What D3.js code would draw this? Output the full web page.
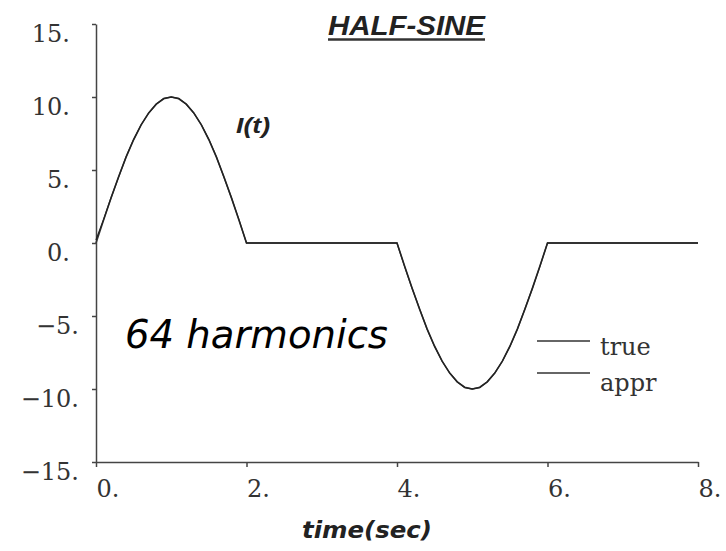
<!DOCTYPE html>
<html>
<head>
<meta charset="utf-8">
<script src="https://cdn.jsdelivr.net/npm/d3@7"></script>
<style>
  body { margin: 0; background: #fff; }
  svg { display: block; }
</style>
</head>
<body>
<div id="chart"></div>
<script>
// current I(t) in the first pulse, 0..2 s, step 0.1
const pulseT = [0, 0.1, 0.2, 0.3, 0.4, 0.5, 0.6, 0.7, 0.8, 0.9, 1.0,
  1.1, 1.2, 1.3, 1.4, 1.5, 1.6, 1.7, 1.8, 1.9, 2.0]
const pulseI = [0, 1.56, 3.09, 4.54, 5.88, 7.07, 8.09, 8.91, 9.51, 9.88, 10,
  9.88, 9.51, 8.91, 8.09, 7.07, 5.88, 4.54, 3.09, 1.56, 0]

// true signal: positive half-sine, flat, negative half-sine, flat
const trueT = [...pulseT, 4, ...pulseT.map(t => t + 4), 8]
const trueI = [...pulseI, 0, ...pulseI.map(v => -v), 0]
// 64-harmonic approximation, drawn on top of the true curve
const apprT = trueT
const apprI = [0.2, 1.6, 3.1, 4.5, 5.9, 7.1, 8.1, 8.9, 9.5, 9.9, 10,
  9.9, 9.5, 8.9, 8.1, 7.1, 5.9, 4.5, 3.1, 1.6, 0,
  0, 0, -1.6, -3.1, -4.5, -5.9, -7.1, -8.1, -8.9, -9.5, -9.9, -10,
  -9.9, -9.5, -8.9, -8.1, -7.1, -5.9, -4.5, -3.1, -1.6, 0, 0]

const xTicks = [0, 2, 4, 6, 8]
const yTicks = [-15, -10, -5, 0, 5, 10, 15]
const legendNames = ['true', 'appr']

const width = 726, height = 551
const svg = d3.select('#chart').append('svg')
  .attr('width', width).attr('height', height)

const x = d3.scaleLinear().domain([0, 8]).range([96, 698])
const y = d3.scaleLinear().domain([-15, 15]).range([462, 24])

const num = d => (d < 0 ? '\u2212' : '') + Math.abs(d) + '.'

// x axis
const gx = svg.append('g')
  .attr('transform', 'translate(0,' + y(-15) + ')')
  .call(d3.axisBottom(x).tickValues(xTicks).tickSize(5).tickSizeOuter(0).tickFormat(num))
gx.selectAll('text')
  .attr('text-anchor', 'start')
  .attr('dy', 0)
  .attr('y', 35)

// y axis
const gy = svg.append('g')
  .attr('transform', 'translate(' + x(0) + ',0)')
  .call(d3.axisLeft(y).tickValues(yTicks).tickSize(4).tickSizeOuter(0).tickFormat(num))
gy.selectAll('text')
  .attr('dy', 0)
  .attr('y', 17)
  .attr('x', d => d < 0 ? -17 : -26)

svg.selectAll('.domain, .tick line')
  .attr('stroke', '#444').attr('stroke-width', 1.5)
svg.selectAll('.tick text')
  .attr('fill', '#333')
  .style('font-family', '"DejaVu Serif"')
  .style('font-size', '24px')

// curves
const line = d3.line().x(d => x(d[0])).y(d => y(d[1]))
svg.append('path')
  .datum(d3.zip(trueT, trueI))
  .attr('fill', 'none').attr('stroke', '#333').attr('stroke-width', 1.6)
  .attr('d', line)
svg.append('path')
  .datum(d3.zip(apprT, apprI))
  .attr('fill', 'none').attr('stroke', '#222').attr('stroke-width', 1.3)
  .attr('d', line)

// title
svg.append('text')
  .attr('x', 328).attr('y', 35)
  .attr('textLength', 157).attr('lengthAdjust', 'spacingAndGlyphs')
  .style('font-family', '"Liberation Sans"').style('font-size', '28px')
  .style('font-weight', 'bold').style('font-style', 'italic')
  .attr('fill', '#222')
  .text('HALF-SINE')
svg.append('line')
  .attr('x1', 328).attr('x2', 485).attr('y1', 39.5).attr('y2', 39.5)
  .attr('stroke', '#333').attr('stroke-width', 2.5)

// curve label
svg.append('text')
  .attr('x', 236).attr('y', 133)
  .attr('textLength', 34).attr('lengthAdjust', 'spacingAndGlyphs')
  .style('font-family', '"Liberation Sans"').style('font-size', '22px')
  .style('font-weight', 'bold').style('font-style', 'italic')
  .attr('fill', '#222')
  .text('I(t)')

svg.append('text')
  .attr('x', 125).attr('y', 348)
  .style('font-family', '"DejaVu Sans"').style('font-size', '38.6px')
  .style('font-style', 'italic')
  .attr('fill', '#000')
  .text('64 harmonics')

// x axis title
svg.append('text')
  .attr('x', 302).attr('y', 538)
  .attr('textLength', 130).attr('lengthAdjust', 'spacingAndGlyphs')
  .style('font-family', '"DejaVu Sans"').style('font-size', '23px')
  .style('font-weight', 'bold').style('font-style', 'italic')
  .attr('fill', '#222')
  .text('time(sec)')

// legend
const lg = svg.append('g')
lg.selectAll('line').data(legendNames).enter().append('line')
  .attr('x1', 537).attr('x2', 590)
  .attr('y1', (d, i) => 341 + i * 32).attr('y2', (d, i) => 341 + i * 32)
  .attr('stroke', '#333').attr('stroke-width', 1.6)
lg.selectAll('text').data(legendNames).enter().append('text')
  .attr('x', 600).attr('y', (d, i) => 355 + i * 36)
  .style('font-family', '"DejaVu Serif"').style('font-size', '24px')
  .attr('fill', '#333')
  .text(d => d)
</script>
</body>
</html>
